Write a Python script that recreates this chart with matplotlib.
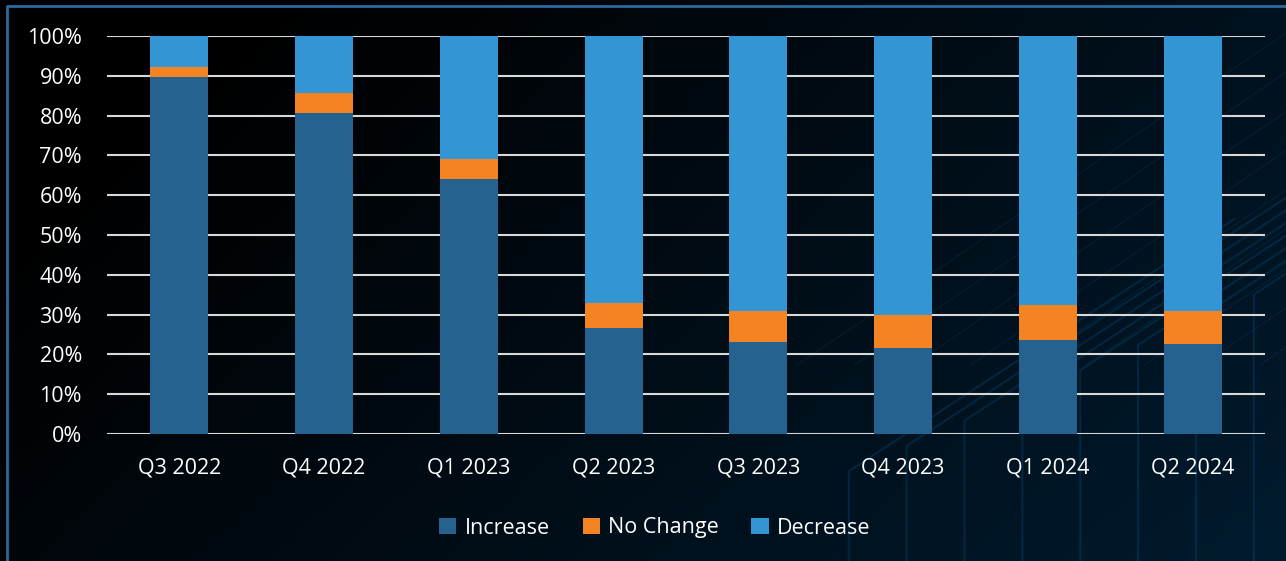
import numpy as np
import matplotlib
matplotlib.use('Agg')
import matplotlib.pyplot as plt
from matplotlib.ticker import PercentFormatter

# Datos (porcentajes apilados)
trimestres = ['Q3 2022', 'Q4 2022', 'Q1 2023', 'Q2 2023', 'Q3 2023', 'Q4 2023', 'Q1 2024', 'Q2 2024']
aumento = [89.6, 80.6, 64.0, 26.7, 23.2, 21.7, 23.7, 22.7]
sin_cambio = [2.5, 5.0, 5.0, 6.1, 7.6, 8.1, 8.6, 8.1]
disminucion = [7.9, 14.4, 31.0, 67.2, 69.2, 70.2, 67.7, 69.2]

series = ['Increase', 'No Change', 'Decrease']
colores = ['#256290', '#f48322', '#3395d3']

plt.rcParams['font.family'] = ['Open Sans', 'DejaVu Sans']

fig = plt.figure(figsize=(12.86, 5.61), dpi=100)

# Fondo: degradado de negro a azul marino oscuro
bg = fig.add_axes([0, 0, 1, 1], zorder=-10)
xx, yy = np.meshgrid(np.linspace(0, 1, 300), np.linspace(0, 1, 150))
t = np.clip(0.75 * xx + 0.35 * yy - 0.15, 0, 1)
c0 = np.array([0.0, 0.0, 0.0])
c1 = np.array([0.0, 0.11, 0.19])
img = c0 + (c1 - c0) * t[..., None]
bg.imshow(img, extent=[0, 1, 0, 1], origin='upper', aspect='auto')
# lineas decorativas tipo circuito (esquina inferior derecha)
for k in range(8):
    x0 = 0.66 + k * 0.045
    y1 = 0.16 + k * 0.045
    bg.plot([x0, x0, x0 + 0.3], [0, y1, y1 + 0.45], color='#0b4a78', lw=1.5, alpha=0.35)
# lineas diagonales finas (parte superior derecha)
for k in range(12):
    x0 = 0.62 + k * 0.045
    bg.plot([x0, x0 + 0.45], [0.35, 1.05], color='#0b4a78', lw=1.0, alpha=0.2)
# marco azul
bg.plot([0.0053, 0.0053, 1.0], [0.0, 0.99, 0.99], color='#2a6a9e', lw=2)
bg.set_xlim(0, 1)
bg.set_ylim(0, 1)
bg.axis('off')

ax = fig.add_axes([107 / 1286, 1 - 434 / 561, (1265 - 107) / 1286, (434 - 36) / 561])
ax.set_facecolor('none')

x = np.arange(len(trimestres))
ancho = 0.4
base = np.zeros(len(trimestres))
for nombre, valores, color in zip(series, [aumento, sin_cambio, disminucion], colores):
    ax.bar(x, valores, ancho, bottom=base, color=color, label=nombre, zorder=3)
    base = base + np.array(valores)

ax.set_xlim(-0.5, len(trimestres) - 0.5)
ax.set_ylim(0, 100)
ax.set_yticks(np.arange(0, 101, 10))
ax.yaxis.set_major_formatter(PercentFormatter(decimals=0))
ax.set_xticks(x)
ax.set_xticklabels(trimestres)
ax.grid(axis='y', color='#d9d9d9', lw=1.5, zorder=1)
ax.tick_params(length=0, colors='white', labelsize=15.5)
ax.tick_params(axis='x', pad=17)
ax.tick_params(axis='y', pad=18)
for s in ax.spines.values():
    s.set_visible(False)

fig.legend(loc='center', bbox_to_anchor=(655 / 1286, 1 - 528 / 561), ncol=3, frameon=False,
           fontsize=15.5, labelcolor='white', handlelength=0.8, handleheight=0.8,
           handletextpad=0.4, columnspacing=1.5)

fig.savefig('out.png', dpi=100)
